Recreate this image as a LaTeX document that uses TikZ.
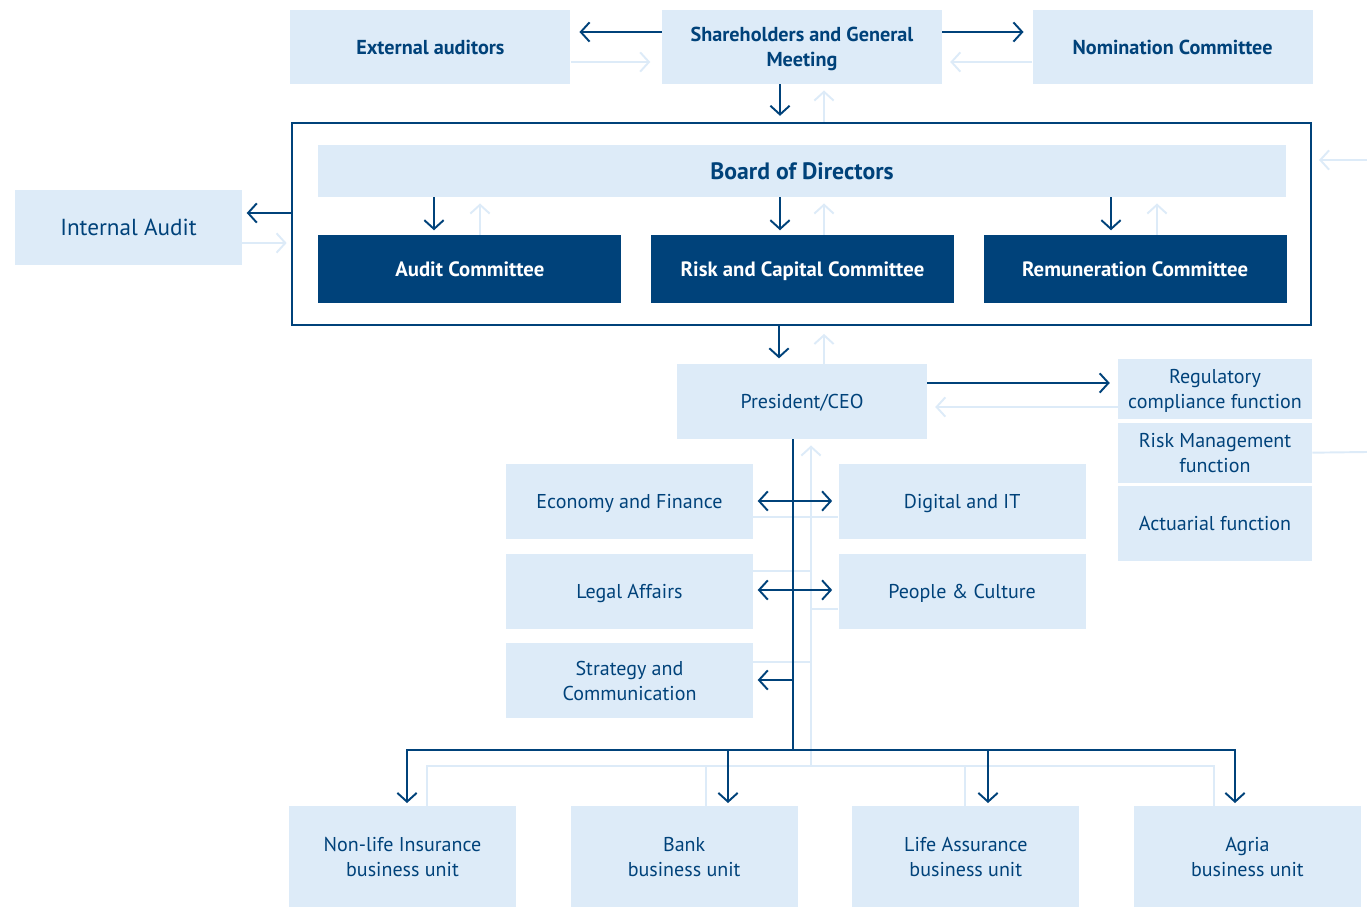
\documentclass[tikz,border=0pt]{standalone}
\usepackage{fontspec}
\setmainfont{PT Sans}
\usetikzlibrary{arrows.meta,positioning}
\definecolor{dkblue}{RGB}{0,66,122}
\definecolor{ltblue}{RGB}{221,235,248}

\begin{document}
\begin{tikzpicture}[x=0.02cm,y=-0.02cm,>={Straight Barb[length=5pt,width=11pt]}]

\tikzstyle{lb} = [rectangle, fill=ltblue, text=dkblue, align=center, inner sep=0pt, text depth=0pt, font=\fontsize{11.4}{14.2}\selectfont]
\tikzstyle{hb} = [lb, font=\fontsize{11.5}{14.2}\selectfont\bfseries, minimum width=5.6cm, minimum height=1.48cm]
\tikzstyle{db} = [rectangle, fill=dkblue, text=white, align=center, inner sep=0pt, font=\fontsize{11.8}{14}\selectfont\bfseries, text depth=0pt, minimum width=6.06cm, minimum height=1.36cm]
\tikzstyle{fn} = [lb, minimum width=4.94cm, minimum height=1.5cm]
\tikzstyle{cf} = [lb, minimum width=3.88cm, minimum height=1.2cm]
\tikzstyle{bu} = [lb, minimum width=4.54cm, minimum height=2.02cm]
\tikzstyle{dk} = [draw=dkblue, line width=1.1pt, ->, shorten >=2.5pt]
\tikzstyle{lt} = [draw=ltblue, line width=1.1pt, ->, shorten >=3.5pt]
\tikzstyle{dkl} = [draw=dkblue, line width=1.1pt]
\tikzstyle{ltl} = [draw=ltblue, line width=1.1pt]

\useasboundingbox (0,0) rectangle (1367,908);

% top row
\node (share) [hb] at (802,47) {Shareholders and General\\Meeting};
\node (ext) [hb, left=1.82cm of share] {External auditors};
\node (nom) [hb, right=1.8cm of share] {Nomination Committee};

% board
\node (board) [draw=dkblue, line width=1.2pt, minimum width=20.38cm, minimum height=4.04cm] at (801.5,224) {};
\node (bod) [lb, font=\fontsize{13.5}{16}\selectfont\bfseries, minimum width=19.36cm, minimum height=1.04cm] at (802,171) {Board of Directors};
\node (risk) [db] at (802.5,269) {Risk and Capital Committee};
\node (audit) [db, left=0.58cm of risk] {Audit Committee};
\node (remu) [db, right=0.58cm of risk] {Remuneration Committee};
\node (ia) [lb, font=\fontsize{13.2}{16}\selectfont, minimum width=4.54cm, minimum height=1.5cm] at (128.5,227.5) {Internal Audit};

% management
\node (ceo) [lb, minimum width=5cm, minimum height=1.5cm] at (802,401.5) {President/CEO};
\node (reg) [cf] at (1215,389) {Regulatory\\compliance function};
\node (rm) [cf, below=0.06cm of reg] {Risk Management\\function};
\node (act) [cf, minimum height=1.5cm, below=0.06cm of rm] {Actuarial function};
\node (eco) [fn] at (629.5,501.5) {Economy and Finance};
\node (dig) [fn, right=1.7cm of eco] {Digital and IT};
\node (leg) [fn, below=0.28cm of eco] {Legal Affairs};
\node (ppl) [fn, right=1.7cm of leg] {People \& Culture};
\node (str) [fn, below=0.28cm of leg] {Strategy and\\Communication};

% business units
\node (nl) [bu] at (402.5,856.5) {Non-life Insurance\\business unit};
\node (bank) [bu, right=1.08cm of nl] {Bank\\business unit};
\node (life) [bu, right=1.08cm of bank] {Life Assurance\\business unit};
\node (agria) [bu, right=1.08cm of life] {Agria\\business unit};

\coordinate (edgeA) at (1367,160);
\coordinate (edgeB) at (1367,452);
\coordinate (ltjoin) at (811,766);
\coordinate (dkjoin) at (793,750);

% shareholders
\draw[dk, shorten >=5pt] (share.west |- 0,32) -- (ext.east |- 0,32);
\draw[dk, shorten >=5pt] (share.east |- 0,32) -- (nom.west |- 0,32);
\draw[lt, shorten >=6.5pt] (ext.east |- 0,62) -- (share.west |- 0,62);
\draw[lt, shorten >=4.5pt] (nom.west |- 0,62) -- (share.east |- 0,62);
\draw[dk, shorten >=3.5pt] (share.south -| 780,0) -- (board.north -| 780,0);
\draw[lt] (board.north -| 824,0) -- (share.south -| 824,0);

% board, internal audit
\draw[dk] (board.west |- 0,213) -- (ia.east |- 0,213);
\draw[lt, shorten >=2.5pt] (ia.east |- 0,243) -- (board.west |- 0,243);
\draw[lt, shorten >=4pt] (edgeA) -- (board.east |- edgeA);
\draw[ltl] (rm.east) -- (edgeB);

% committees
\draw[dk] (bod.south -| 434,0) -- (audit.north -| 434,0);
\draw[lt] (audit.north -| 480,0) -- (bod.south -| 480,0);
\draw[dk] (bod.south -| 780,0) -- (risk.north -| 780,0);
\draw[lt] (risk.north -| 824,0) -- (bod.south -| 824,0);
\draw[dk] (bod.south -| 1111,0) -- (remu.north -| 1111,0);
\draw[lt] (remu.north -| 1157,0) -- (bod.south -| 1157,0);

% board, ceo, control functions
\draw[dk, shorten >=3pt] (board.south -| 779,0) -- (ceo.north -| 779,0);
\draw[lt, shorten >=4.5pt] (ceo.north -| 824,0) -- (board.south -| 824,0);
\draw[dk, shorten >=4.5pt] (ceo.east |- 0,383) -- (reg.west |- 0,383);
\draw[lt, shorten >=4.5pt] (reg.west |- 0,407) -- (ceo.east |- 0,407);

% light lines back up
\draw[ltl] (eco.east |- 0,517) -- (dig.west |- 0,517);
\draw[ltl] (leg.east |- 0,571) -- (ltjoin |- 0,571);
\draw[ltl] (ppl.west |- 0,609) -- (ltjoin |- 0,609);
\draw[ltl] (str.east |- 0,662) -- (ltjoin |- 0,662);
\draw[ltl] (nl.north -| 427,0) |- (ltjoin) -| (agria.north -| 1214,0);
\draw[ltl] (bank.north -| 706,0) -- (ltjoin -| 706,0);
\draw[ltl] (life.north -| 965,0) -- (ltjoin -| 965,0);
\draw[lt] (ltjoin) -- (ceo.south -| ltjoin);

% dark lines down
\draw[dkl] (ceo.south -| dkjoin) -- (dkjoin);
\draw[dk, <->, shorten <=2.5pt, shorten >=3.5pt] (eco.east |- 0,501) -- (dig.west |- 0,501);
\draw[dk, <->, shorten <=2.5pt, shorten >=3.5pt] (leg.east |- 0,590) -- (ppl.west |- 0,590);
\draw[dk] (dkjoin |- 0,680) -- (str.east |- 0,680);
\draw[dk, shorten >=1.5pt] (dkjoin) -| (nl.north -| 407,0);
\draw[dk, shorten >=1.5pt] (dkjoin) -| (bank.north -| 728,0);
\draw[dk, shorten >=1.5pt] (dkjoin) -| (life.north -| 988,0);
\draw[dk, shorten >=1.5pt] (dkjoin) -| (agria.north -| 1235,0);

\end{tikzpicture}
\end{document}
